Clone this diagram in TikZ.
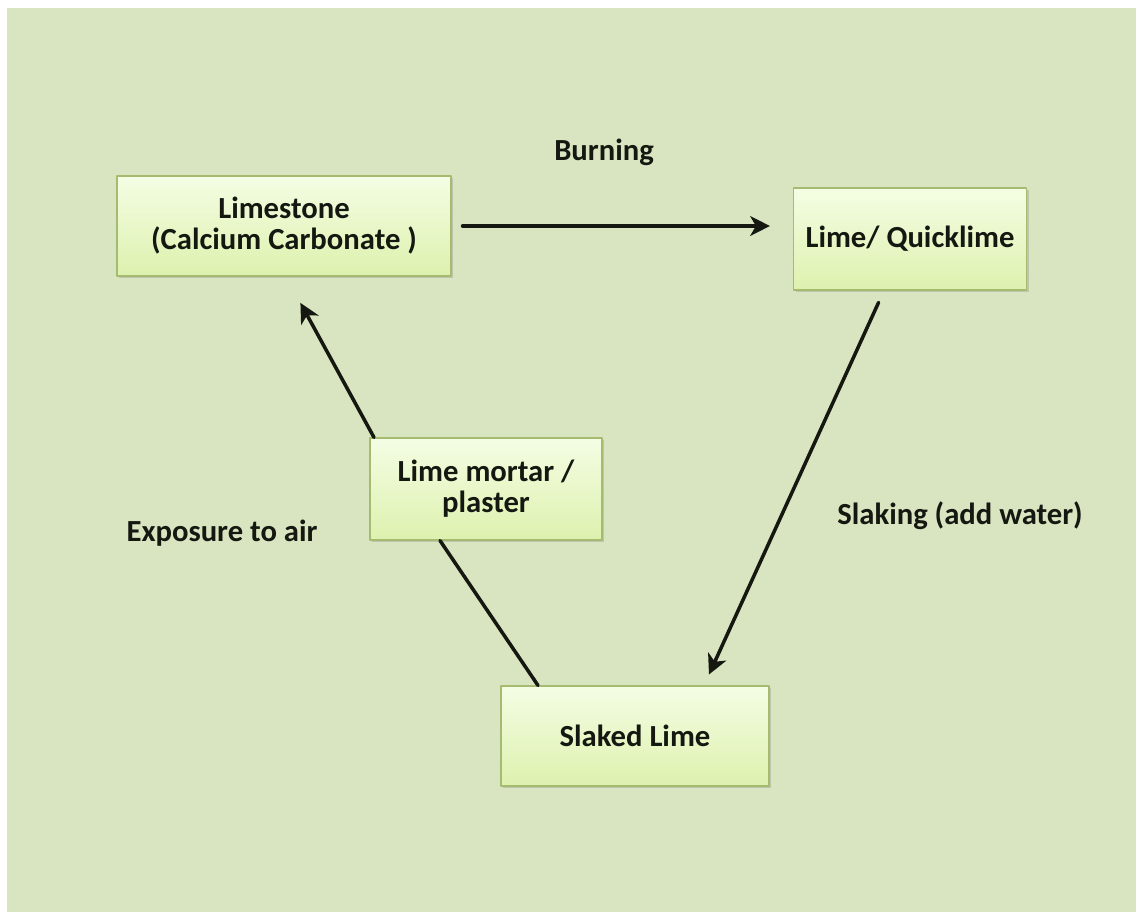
\documentclass[tikz,border=0pt]{standalone}
\usepackage{fontspec}
\setmainfont{Carlito}
\usetikzlibrary{shadows,arrows.meta}
\definecolor{paper}{RGB}{217,228,192}
\definecolor{boxtop}{RGB}{244,253,228}
\definecolor{boxbot}{RGB}{222,241,174}
\definecolor{boxedge}{RGB}{165,188,112}
\definecolor{ink}{RGB}{20,24,16}

\begin{document}
\begin{tikzpicture}[x=0.025cm,y=-0.025cm,line cap=round,line join=round,>={Stealth[length=14pt,width=14pt,inset=4pt]},
  every node/.style={inner sep=1pt,align=center,text=ink,font=\fontsize{21.8}{22}\selectfont\bfseries},
  stage/.style={draw=boxedge,line width=0.8pt,top color=boxtop,bottom color=boxbot,
    drop shadow={shadow xshift=1.5pt,shadow yshift=-1.5pt,opacity=0.3}},
  flow/.style={line width=2.5pt,draw=ink}]
  \def\px{0.025cm}
  \useasboundingbox (0,0) rectangle (1136,912);
  \fill[white] (0,0) rectangle (1136,912);
  \fill[paper] (7,8) rectangle (1136,912);
  % the four stages
  \node[stage,minimum width=334*\px,minimum height=100*\px] (limestone) at (284,226) {Limestone\\(Calcium Carbonate )};
  \node[stage,minimum width=233*\px,minimum height=102*\px] (quick) at (910,239) {Lime/ Quicklime};
  \node[stage,minimum width=232*\px,minimum height=102*\px] (mortar) at (486,489) {Lime mortar /\\plaster};
  \node[stage,minimum width=268*\px,minimum height=100*\px] (slaked) at (635,736) {Slaked Lime};
  % process labels
  \node (burn) at (604,152) {Burning};
  \node (slake) at (960,516) {Slaking (add water)};
  \node (air) at (222,533) {Exposure to air};
  % connectors
  \draw[flow,->,shorten <=11*\px,shorten >=23*\px] (limestone.east) -- (limestone.east -| quick.west);
  \draw[flow,->,shorten <=13*\px,shorten >=12*\px] ([xshift=-26*\px]quick.south) -- ([xshift=69*\px]slaked.north);
  \draw[flow] ([xshift=-97*\px]slaked.north) -- ([xshift=-46*\px]mortar.south);
  \draw[flow,->,shorten >=30*\px] ([xshift=-112*\px]mortar.north) -- ([xshift=2*\px]limestone.south);
\end{tikzpicture}
\end{document}
